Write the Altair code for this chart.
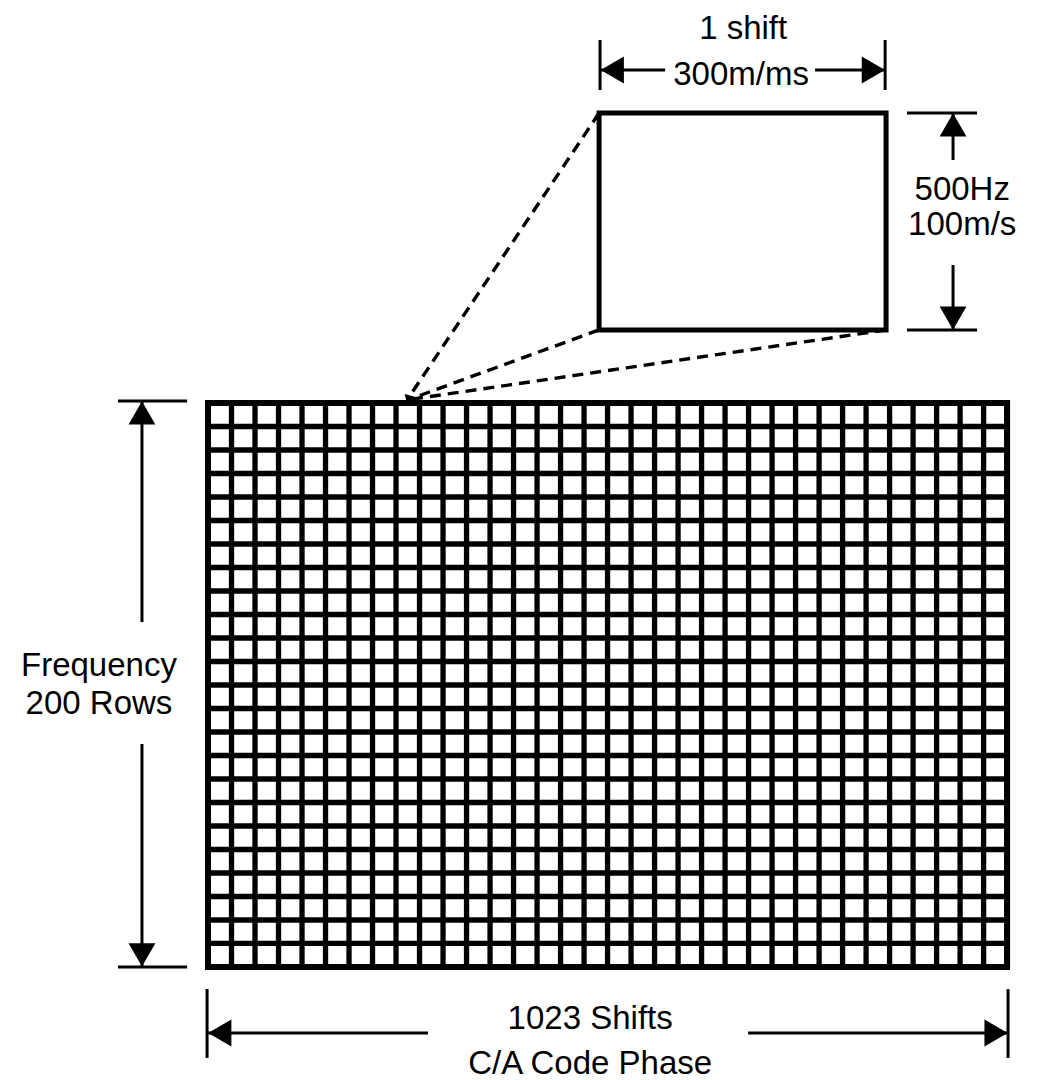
import altair as alt
import pandas as pd

# ---- diagram data (units = one search cell) ----
N_COLS = 34          # code-phase cells drawn
N_ROWS = 24          # frequency cells drawn

# scale domain (cell units)
X_DOMAIN = [-8.51, 35.57]
Y_DOMAIN = [-4.81, 40.81]

# zoomed single cell (inset box)
BOX_X = [16.64, 28.85]
BOX_Y = [27.11, 36.34]

# dashed zoom lines: start (box corner) -> end (grid cell)
ZOOM_X1 = [16.64, 16.64, 28.85]
ZOOM_Y1 = [36.34, 27.11, 27.11]
ZOOM_X2 = [8.47, 8.60, 8.72]
ZOOM_Y2 = [24.13, 24.17, 24.17]

# dimension rules (extension ticks and arrow shafts)
DIM_X1 = [16.68, 28.81, 16.68, 25.83,  29.74, 29.74, 31.70, 31.70,  -3.83, -3.83, -2.81, -2.81,  -0.04, 34.04, 0.0, 22.98]
DIM_X2 = [16.68, 28.81, 19.45, 28.81,  32.72, 32.72, 31.70, 31.70,  -0.89, -0.89, -2.81, -2.81,  -0.04, 34.04, 9.36, 34.04]
DIM_Y1 = [39.45, 39.45, 38.17, 38.17,  36.34, 27.11, 36.34, 29.87,  24.09, 0.0, 24.09, 9.49,  -0.94, -0.94, -2.81, -2.81]
DIM_Y2 = [37.32, 37.32, 38.17, 38.17,  36.34, 27.11, 34.34, 27.11,  24.09, 0.0, 14.68, 0.0,  -3.87, -3.87, -2.81, -2.81]

# arrowheads
HEAD_X = [17.20, 28.31, 31.70, 31.70, -2.81, -2.81, 0.50, 33.53]
HEAD_Y = [38.17, 38.17, 35.84, 27.61, 23.58, 0.51, -2.81, -2.81]
HEAD_SHAPE = ["triangle-left", "triangle-right", "triangle-up", "triangle-down",
              "triangle-up", "triangle-down", "triangle-left", "triangle-right"]

# labels
LABELS = ["1 shift", "300m/ms", "500Hz", "100m/s", "Frequency", "200 Rows",
          "1023 Shifts", "C/A Code Phase"]
LABEL_X = [22.77, 22.68, 32.09, 32.09, -4.64, -4.64, 16.26, 16.26]
LABEL_Y = [39.91, 37.96, 33.06, 31.58, 12.80, 11.20, -2.21, -4.13]

FONT = "Liberation Sans"

xs = alt.Scale(domain=X_DOMAIN, nice=False, zero=False)
ys = alt.Scale(domain=Y_DOMAIN, nice=False, zero=False)

# grid lines
gx1, gx2, gy1, gy2 = [], [], [], []
for c in range(N_COLS + 1):
    gx1.append(c); gx2.append(c); gy1.append(0); gy2.append(N_ROWS)
for r in range(N_ROWS + 1):
    gx1.append(0); gx2.append(N_COLS); gy1.append(r); gy2.append(r)
grid_df = pd.DataFrame({"x": gx1, "x2": gx2, "y": gy1, "y2": gy2})

def rules(df, **kw):
    return alt.Chart(df).mark_rule(color="black", **kw).encode(
        x=alt.X("x:Q", scale=xs, axis=None),
        x2="x2:Q",
        y=alt.Y("y:Q", scale=ys, axis=None),
        y2="y2:Q",
    )

grid = rules(grid_df, strokeWidth=5.3, strokeCap="square")

border_df = pd.DataFrame({"x": [0], "x2": [N_COLS], "y": [0], "y2": [N_ROWS]})
border = alt.Chart(border_df).mark_rect(filled=False, stroke="black", strokeWidth=6).encode(
    x=alt.X("x:Q", scale=xs, axis=None), x2="x2:Q",
    y=alt.Y("y:Q", scale=ys, axis=None), y2="y2:Q",
)

zoom_df = pd.DataFrame({"x": ZOOM_X1, "x2": ZOOM_X2, "y": ZOOM_Y1, "y2": ZOOM_Y2})
zoom = rules(zoom_df, strokeWidth=3.4, strokeDash=[11, 7])

box_df = pd.DataFrame({"x": [BOX_X[0]], "x2": [BOX_X[1]], "y": [BOX_Y[0]], "y2": [BOX_Y[1]]})
box = alt.Chart(box_df).mark_rect(fill="white", stroke="black", strokeWidth=5).encode(
    x=alt.X("x:Q", scale=xs, axis=None), x2="x2:Q",
    y=alt.Y("y:Q", scale=ys, axis=None), y2="y2:Q",
)

dim_df = pd.DataFrame({"x": DIM_X1, "x2": DIM_X2, "y": DIM_Y1, "y2": DIM_Y2})
dims = rules(dim_df, strokeWidth=3)

head_df = pd.DataFrame({"x": HEAD_X, "y": HEAD_Y, "shape": HEAD_SHAPE})
heads = alt.Chart(head_df).mark_point(filled=True, color="black", opacity=1, size=720).encode(
    x=alt.X("x:Q", scale=xs, axis=None),
    y=alt.Y("y:Q", scale=ys, axis=None),
    shape=alt.Shape("shape:N", scale=None, legend=None),
)

tip_df = pd.DataFrame({"x": [8.50], "y": [24.25]})
tip = alt.Chart(tip_df).mark_point(filled=True, color="black", opacity=1, size=110,
                                   shape="triangle-up", angle=315).encode(
    x=alt.X("x:Q", scale=xs, axis=None),
    y=alt.Y("y:Q", scale=ys, axis=None),
)

lab_df = pd.DataFrame({"x": LABEL_X, "y": LABEL_Y, "t": LABELS})
labels = alt.Chart(lab_df).mark_text(font=FONT, fontSize=33, color="black",
                                      align="center", baseline="middle").encode(
    x=alt.X("x:Q", scale=xs, axis=None),
    y=alt.Y("y:Q", scale=ys, axis=None),
    text="t:N",
)

chart = alt.layer(grid, border, zoom, box, dims, heads, tip, labels).properties(
    width=1036, height=1072, padding=0, autosize="none", background="white"
).configure_view(stroke=None)

chart.save("out.html", embed_options={"renderer": "svg", "actions": False})
